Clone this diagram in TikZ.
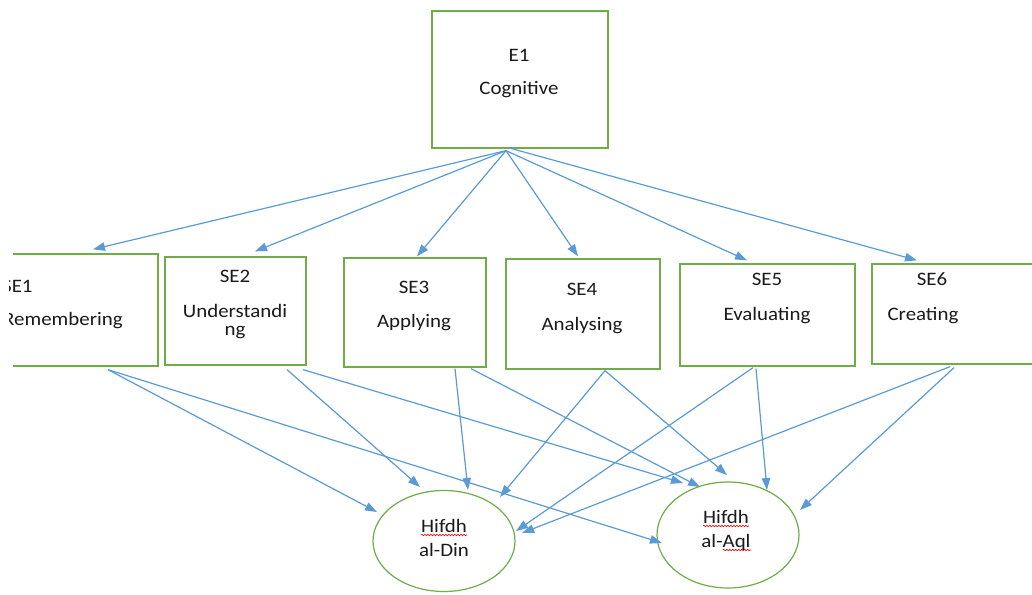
\documentclass[tikz,border=0pt]{standalone}
\usepackage{fontspec}
\setmainfont{Carlito}[FakeStretch=1.1]
\usetikzlibrary{arrows.meta,calc,shapes.geometric,decorations.pathmorphing}
\definecolor{boxgreen}{HTML}{70AD47}
\definecolor{arrowblue}{HTML}{5B9BD5}
\definecolor{textgray}{HTML}{1A1A1A}

\begin{document}
\begin{tikzpicture}[x=1pt,y=-1pt,
  box/.style={draw=boxgreen, line width=1.3pt, rectangle, inner sep=0pt},
  goal/.style={draw=boxgreen, line width=1.2pt, ellipse, inner sep=0pt},
  lbl/.style={anchor=base, inner sep=0pt, text=textgray, font=\fontsize{19}{22}\selectfont},
  link/.style={draw=arrowblue, line width=1.2pt, -{Triangle[length=12pt,width=8.5pt]}},
  spell/.style={draw=red, line width=0.6pt, decorate,
    decoration={snake, amplitude=0.8pt, segment length=3pt}}]

\fill[white] (0,0) rectangle (1032,594);
\useasboundingbox (0,0) rectangle (1032,594);

% main element
\node[box, minimum width=176pt, minimum height=137pt] (e1) at (520,79.5) {};
\node[lbl] (e1-id)   at (519,62) {E1};
\node[lbl] (e1-name) at (519,94) {Cognitive};

% sub-elements
\begin{scope}
  \clip (13,0) rectangle (200,594);
  \node[box, minimum width=178pt, minimum height=112pt] (se1) at (69,310) {};
\end{scope}
\begin{scope}
  \clip (9,0) rectangle (200,594);
  \node[lbl, anchor=base west] (se1-id)   at (2,292) {SE1};
  \node[lbl, anchor=base west] (se1-name) at (3,325) {Remembering};
\end{scope}

\node[box, minimum width=141pt, minimum height=108pt] (se2) at (235.5,311) {};
\node[lbl] (se2-id)    at (235,282) {SE2};
\node[lbl] (se2-name)  at (235,317) {Understandi};
\node[lbl] (se2-name2) at (235,335) {ng};

\node[box, minimum width=142pt, minimum height=109pt] (se3) at (415,312.5) {};
\node[lbl] (se3-id)   at (414,293) {SE3};
\node[lbl] (se3-name) at (414,327) {Applying};

\node[box, minimum width=154pt, minimum height=110pt] (se4) at (583,314) {};
\node[lbl] (se4-id)   at (582,295) {SE4};
\node[lbl] (se4-name) at (582,330) {Analysing};

\node[box, minimum width=175pt, minimum height=102pt] (se5) at (767.5,315) {};
\node[lbl] (se5-id)   at (767,285) {SE5};
\node[lbl] (se5-name) at (767,320) {Evaluating};

\node[box, minimum width=168pt, minimum height=100pt] (se6) at (956,314) {};
\node[lbl] (se6-id)   at (932,285) {SE6};
\node[lbl] (se6-name) at (923,320) {Creating};

% maqasid outcomes
\node[goal, minimum width=142pt, minimum height=101pt] (din) at (444,541) {};
\node[lbl] (din-a) at (444,532) {Hifdh};
\node[lbl] (din-b) at (444,556) {al-Din};

\node[goal, minimum width=142pt, minimum height=106pt] (aql) at (728,535) {};
\node[lbl] (aql-a) at (726,523) {Hifdh};
\node[lbl] (aql-b) at (726,547) {al-Aql};

% spell-check marks
\draw[spell] ($(din-a.base west)+(0,3)$) -- ($(din-a.base east)+(0,3)$);
\draw[spell] ($(aql-a.base west)+(0,3)$) -- ($(aql-a.base east)+(0,3)$);
\draw[spell] ($(aql-b.base east)+(-28,3)$) -- ($(aql-b.base east)+(0,3)$);

% element to sub-elements
\draw[link] ($(e1.south)+(-14,2)$) -- ($(se1.north)+(24,-4)$);
\draw[link] ($(e1.south)+(-14,2)$) -- ($(se2.north)+(19.5,-5)$);
\draw[link] ($(e1.south)+(-14,2)$) -- ($(se3.north)+(2,-1)$);
\draw[link] ($(e1.south)+(-14,2)$) -- ($(se4.north)+(-5,-2)$);
\draw[link] ($(e1.south)+(-14,2)$) -- ($(se5.north)+(-20.5,-3)$);
\draw[link] ($(e1.south)+(-12,-1)$) -- ($(se6.north)+(-39,-3)$);

% sub-elements to Hifdh al-Din
\draw[link] ($(se1.south)+(39,3)$)    -- ($(din.center)+(-67,-29)$);
\draw[link] ($(se2.south)+(51.5,4)$)  -- ($(din.center)+(-24,-54)$);
\draw[link] ($(se3.south)+(40,1)$)    -- ($(din.center)+(24,-51)$);
\draw[link] ($(se4.south)+(22,1)$)    -- ($(din.center)+(56,-44)$);
\draw[link] ($(se5.south)+(-14.5,1)$) -- ($(din.center)+(72,-10)$);
\draw[link] ($(se6.south)+(-6,2)$)    -- ($(din.center)+(78,-8)$);

% sub-elements to Hifdh al-Aql
\draw[link] ($(se1.south)+(39,3)$)    -- ($(aql.center)+(-66,8)$);
\draw[link] ($(se2.south)+(67.5,4)$)  -- ($(aql.center)+(-45,-52)$);
\draw[link] ($(se3.south)+(56,1)$)    -- ($(aql.center)+(-28,-48)$);
\draw[link] ($(se4.south)+(22,1)$)    -- ($(aql.center)+(-1,-60)$);
\draw[link] ($(se5.south)+(-11.5,2)$) -- ($(aql.center)+(39,-45)$);
\draw[link] ($(se6.south)+(-2,3)$)    -- ($(aql.center)+(72,-25)$);

\end{tikzpicture}
\end{document}
